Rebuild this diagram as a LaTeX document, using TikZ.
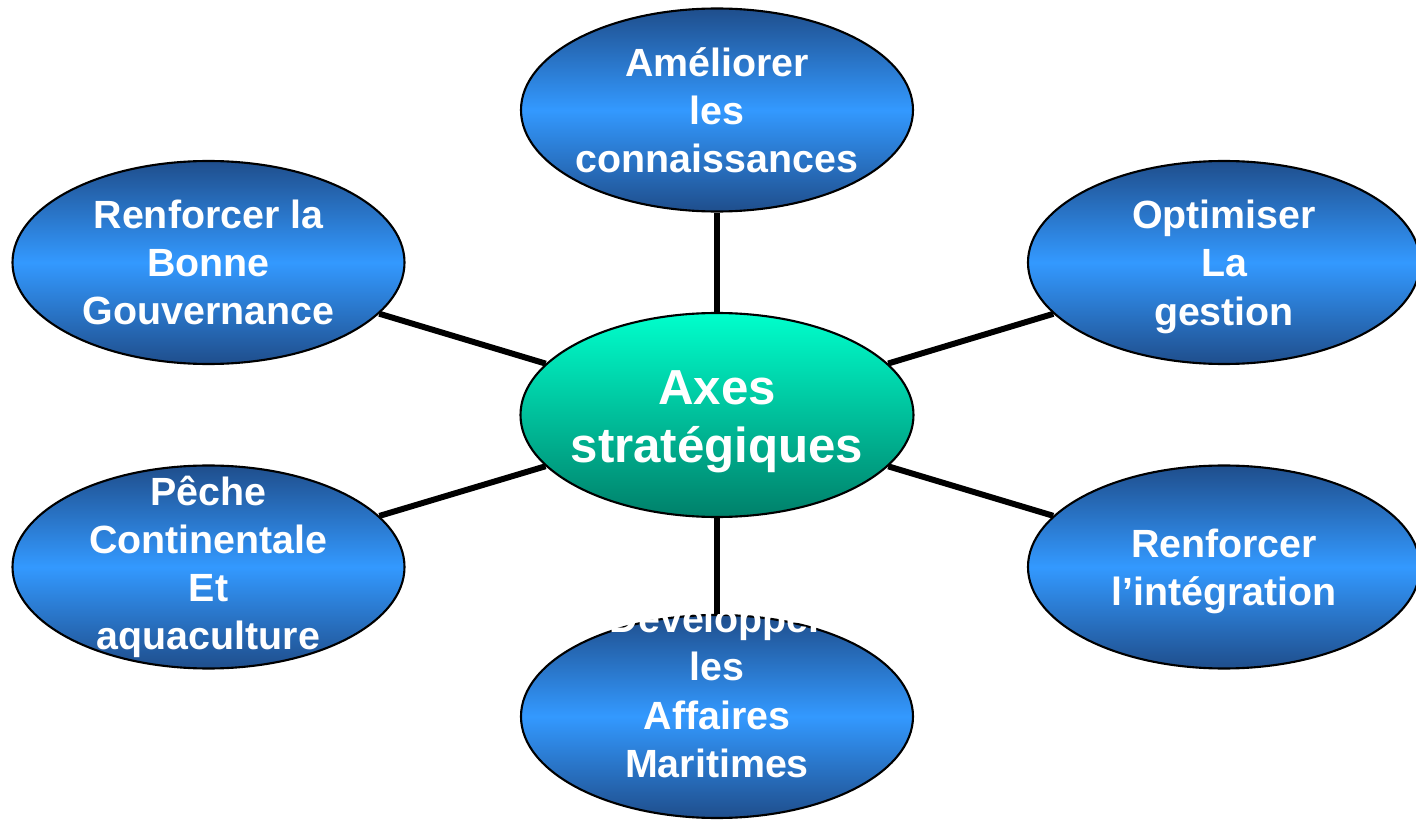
\documentclass[tikz,border=0pt]{standalone}
\usepackage{fontspec}
\setmainfont{Liberation Sans}
\usetikzlibrary{shapes.geometric}

\definecolor{bleufonce}{HTML}{1F4E8C}
\definecolor{bleuclair}{HTML}{3399FF}
\definecolor{turquoise}{HTML}{00FFCC}
\definecolor{vertfonce}{HTML}{00806A}

\begin{document}
\begin{tikzpicture}[
    axe/.style={
        ellipse,
        draw=black,
        line width=0.6pt,
        minimum width=3.92cm,
        minimum height=2.03cm,
        inner xsep=-20pt,
        inner ysep=-30pt,
        align=center,
        text=white,
        font=\fontsize{11.2pt}{13.7pt}\selectfont\bfseries,
        top color=bleufonce,
        bottom color=bleufonce,
        middle color=bleuclair
    },
    coeur/.style={
        axe,
        minimum width=3.93cm,
        minimum height=2.04cm,
        font=\fontsize{14pt}{16.6pt}\selectfont\bfseries,
        top color=turquoise,
        bottom color=vertfonce
    },
    lien/.style={
        line width=1.7pt,
        black
    }]

\useasboundingbox (0,0) rectangle (14.16,8.19);

% Centre
\node[coeur] (centre) at (7.17,4.04)
{\rule{0pt}{13.6pt}Axes\\stratégiques};


% Axes autour
\node[axe] (connaissances) at (7.17,7.09)
{Améliorer\\les\\connaissances};

\node[axe] (gouvernance) at (2.085,5.565)
{Renforcer la\\Bonne\\Gouvernance};

\node[axe] (gestion) at (12.24,5.565)
{\rule{0pt}{10.6pt}Optimiser\\La\\gestion};

\node[axe] (peche) at (2.085,2.52)
{Pêche\\Continentale\\Et\\aquaculture};

\node[axe] (integration) at (12.24,2.52)
{\rule{0pt}{10.6pt}Renforcer\\l’intégration};

\node[axe] (affaires) at (7.17,1.025)
{Développer\\les\\Affaires\\Maritimes\rule[-14.8pt]{0pt}{14.8pt}};


% Liens
\draw[lien] (centre) -- (connaissances);
\draw[lien] (centre) -- (gouvernance);
\draw[lien] (centre) -- (gestion);
\draw[lien] (centre) -- (peche);
\draw[lien] (centre) -- (integration);
\draw[lien] (centre) -- (affaires);

\end{tikzpicture}
\end{document}
